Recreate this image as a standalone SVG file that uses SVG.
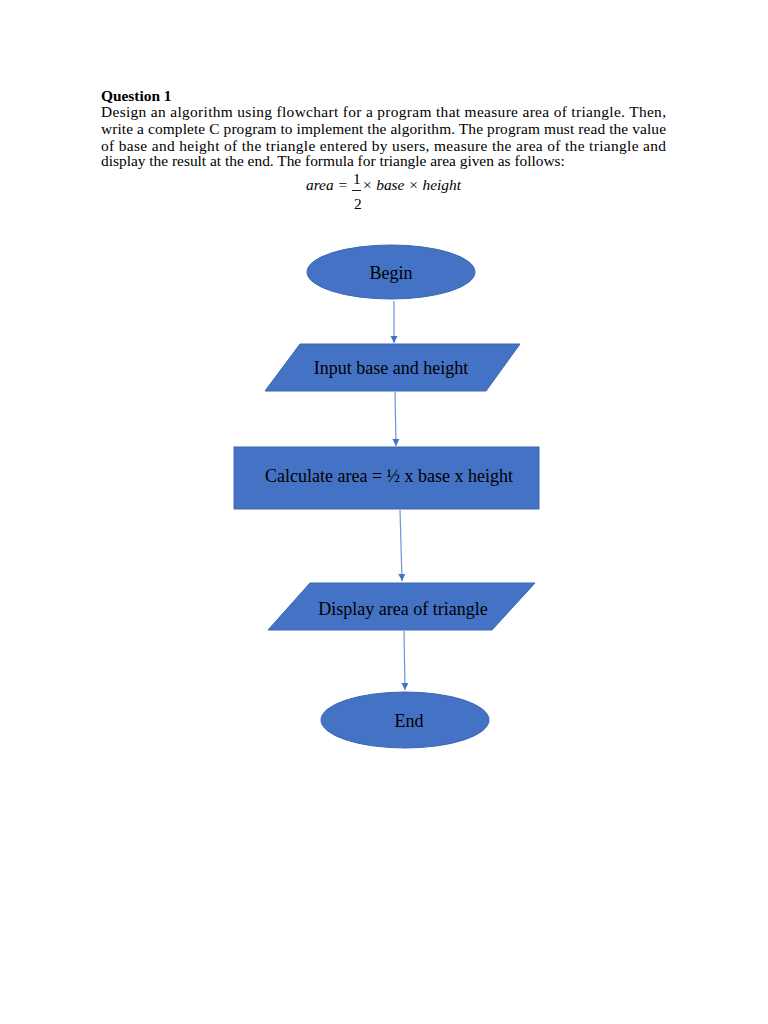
<svg xmlns="http://www.w3.org/2000/svg" width="768" height="1024" viewBox="0 0 768 1024">
<style>
.t{font-family:"Liberation Serif","Times New Roman",serif;font-size:15.4px;fill:#000}
.n{fill:#4472C4;stroke:#3C66B0;stroke-width:1}
.l{font-family:"Liberation Serif","Times New Roman",serif;font-size:18px;fill:#000;text-anchor:middle}
.c{stroke:#6E93D6;stroke-width:1.2;fill:none}
</style>
<defs>
<marker id="ah" markerWidth="8" markerHeight="8" refX="7" refY="4" orient="auto" markerUnits="userSpaceOnUse">
<path d="M0,0.5 L7,4 L0,7.5 Z" fill="#4472C4"/>
</marker>
</defs>
<rect width="768" height="1024" fill="#fff"/>
<g id="question">
<text class="t" x="101" y="101" font-weight="bold">Question 1</text>
<text class="t" x="101" y="117" textLength="565" lengthAdjust="spacing">Design an algorithm using flowchart for a program that measure area of triangle. Then,</text>
<text class="t" x="101" y="134" textLength="565" lengthAdjust="spacing">write a complete C program to implement the algorithm. The program must read the value</text>
<text class="t" x="101" y="151" textLength="565" lengthAdjust="spacing">of base and height of the triangle entered by users, measure the area of the triangle and</text>
<text class="t" x="101" y="166">display the result at the end. The formula for triangle area given as follows:</text>
<text class="t" x="353" y="184" font-size="13">1</text>
<text class="t" x="306" y="190" font-style="italic">area =</text>
<line x1="352" y1="190.5" x2="361" y2="190.5" stroke="#000" stroke-width="0.9"/>
<text class="t" x="354" y="209">2</text>
<text class="t" x="362" y="190" font-style="italic">× base × height</text>
</g>
<g id="connectors">
<line class="c" x1="394" y1="301" x2="394" y2="343" marker-end="url(#ah)"/>
<line class="c" x1="395" y1="392" x2="396" y2="446" marker-end="url(#ah)"/>
<line class="c" x1="400" y1="510" x2="402" y2="581" marker-end="url(#ah)"/>
<line class="c" x1="404" y1="631" x2="405" y2="690" marker-end="url(#ah)"/>
</g>
<g id="begin">
<ellipse class="n" cx="391" cy="272" rx="84" ry="27"/>
<text class="l" x="391" y="279">Begin</text>
</g>
<g id="input">
<polygon class="n" points="300,344 520,344 486,391 265,391"/>
<text class="l" x="391" y="374">Input base and height</text>
</g>
<g id="calculate">
<rect class="n" x="234" y="447" width="305" height="62"/>
<text class="l" x="389" y="482">Calculate area = ½ x base x height</text>
</g>
<g id="display">
<polygon class="n" points="310,583 535,583 492,630 268,630"/>
<text class="l" x="403" y="615">Display area of triangle</text>
</g>
<g id="end">
<ellipse class="n" cx="405" cy="720" rx="84" ry="28"/>
<text class="l" x="409" y="727">End</text>
</g>
</svg>
